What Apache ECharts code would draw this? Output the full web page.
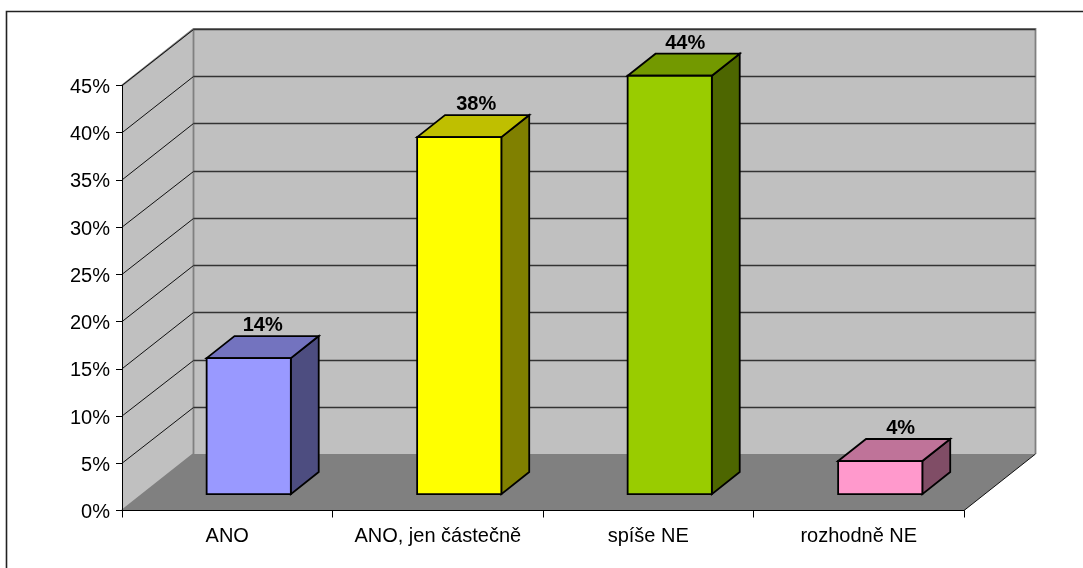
<!DOCTYPE html>
<html>
<head>
<meta charset="utf-8">
<style>html,body{margin:0;padding:0;background:#fff}#c{width:1083px;height:568px}</style>
<script src="https://cdn.jsdelivr.net/npm/echarts@6/dist/echarts.min.js"></script>
</head>
<body>
<div id="c"></div>
<script>
const categories = ['ANO', 'ANO, jen částečně', 'spíše NE', 'rozhodně NE'];
const values = [14.4, 37.8, 44.3, 3.5];
const frontColors = ['#9999FF', '#FFFF00', '#99CC00', '#FF99CC'];
const topColors = ['#7373BF', '#BFBF00', '#739900', '#BF7399'];
const sideColors = ['#4D4D80', '#808000', '#4D6600', '#804D66'];
const gridValues = [5, 10, 15, 20, 25, 30, 35, 40, 45];

const FONT = '"Liberation Sans", Arial, sans-serif';
const DX = 71.5, DY = -56.5;       // depth of the floor in pixels
const BAR_BACK = 0.29;             // where the bar's front sits in the depth
const BAR_DEPTH = 0.39;            // bar depth as a share of the floor depth
const BAR_WIDTH = 0.4;             // bar width as a share of the category band
const LABEL_SHIFT = [0, 3, 1.5, 6.5]; // the source's labels are not quite centred on the bars

const chart = echarts.init(document.getElementById('c'), null, { renderer: 'canvas' });

function poly(points, fill, stroke, lineWidth) {
  return { type: 'polygon', shape: { points }, style: { fill, stroke: stroke || 'none', lineWidth: lineWidth || 0, lineJoin: 'miter' } };
}
function line(p, color, w) {
  return { type: 'polyline', shape: { points: p }, style: { stroke: color, lineWidth: w || 1, fill: 'none' } };
}

function renderWalls(params, api) {
  const o = api.coord([0, 0]).slice();
  const bandW = api.size([1, 0])[0];
  const x0 = o[0] - bandW / 2, y0 = o[1];
  const x1 = x0 + bandW * categories.length;
  const yt = api.coord([0, 45])[1];
  return {
    type: 'group',
    children: [
      poly([[x0, yt], [x0 + DX, yt + DY], [x0 + DX, y0 + DY], [x0, y0]], '#C0C0C0'),
      poly([[x0 + DX, yt + DY], [x1 + DX, yt + DY], [x1 + DX, y0 + DY], [x0 + DX, y0 + DY]], '#C0C0C0'),
      poly([[x0, y0], [x1, y0], [x1 + DX, y0 + DY], [x0 + DX, y0 + DY]], '#808080'),
      line([[x0, yt], [x0 + DX, yt + DY], [x1 + DX, yt + DY], [x1 + DX, y0 + DY]], '#808080', 1.8),
      line([[x0 + DX, yt + DY], [x0 + DX, y0 + DY], [x0, y0]], '#808080', 1.8),
      line([[x1, y0], [x1 + DX, y0 + DY]], '#111111', 1)
    ]
  };
}

function renderGrid(params, api) {
  const o = api.coord([0, 0]);
  const bandW = api.size([1, 0])[0];
  const x0 = o[0] - bandW / 2;
  const x1 = x0 + bandW * categories.length;
  const y = api.coord([0, api.value(0)])[1];
  const yb = Math.round(y + DY) + 0.5;
  return {
    type: 'group',
    children: [
      line([[x0, y], [x0 + DX, yb]], '#111111', 1),
      line([[x0 + DX, yb], [x1 + DX, yb]], '#333333', 1.3)
    ]
  };
}

function renderBar(params, api) {
  const i = api.value(0);
  const c = api.coord([i, 0]);
  const top = api.coord([i, api.value(1)])[1];
  const bandW = api.size([1, 0])[0];
  const w = bandW * BAR_WIDTH;
  const xl = c[0] - w / 2 + DX * BAR_BACK + 0.75;
  const xr = xl + w;
  const yb = c[1] + DY * BAR_BACK;
  const yt = top + DY * BAR_BACK;
  const dx = DX * BAR_DEPTH, dy = DY * BAR_DEPTH;
  const s = '#000000', lw = 1.8;
  return {
    type: 'group',
    children: [
      poly([[xr, yt], [xr + dx, yt + dy], [xr + dx, yb + dy], [xr, yb]], sideColors[i], s, lw),
      poly([[xl, yt], [xl + dx, yt + dy], [xr + dx, yt + dy], [xr, yt]], topColors[i], s, lw),
      poly([[xl, yt], [xr, yt], [xr, yb], [xl, yb]], frontColors[i], s, lw),
      {
        type: 'text',
        style: {
          x: (xl + xr) / 2 + dx / 2 + LABEL_SHIFT[i],
          y: yt + dy - 0.5,
          text: Math.round(api.value(1)) + '%',
          align: 'center',
          verticalAlign: 'bottom',
          fill: '#000000',
          font: 'bold 20px ' + FONT
        }
      }
    ]
  };
}

chart.setOption({
  animation: false,
  backgroundColor: '#ffffff',
  graphic: [{
    type: 'polyline',
    z: 100,
    shape: { points: [[6.5, 568], [6.5, 11.5], [1083, 11.5]] },
    style: { stroke: '#222222', lineWidth: 1.6, fill: 'none' }
  }],
  grid: { left: 122, right: 119, top: 85.5, bottom: 57.5, containLabel: false },
  xAxis: {
    type: 'category',
    data: categories,
    z: 20,
    axisLine: { show: true, lineStyle: { color: '#000000', width: 1 } },
    axisTick: { show: true, alignWithLabel: false, interval: 0, length: 7, lineStyle: { color: '#000000' } },
    axisLabel: { color: '#000000', fontFamily: FONT, fontSize: 20, margin: 16, interval: 0, hideOverlap: false },
    splitLine: { show: false }
  },
  yAxis: {
    type: 'value',
    min: 0,
    max: 45,
    interval: 5,
    z: 20,
    axisLine: { show: true, lineStyle: { color: '#000000', width: 1 } },
    axisTick: { show: true, length: 6, lineStyle: { color: '#000000' } },
    axisLabel: {
      color: '#000000', fontFamily: FONT, fontSize: 20, margin: 12,
      formatter: '{a|{value}%}',
      rich: { a: { color: '#000000', fontFamily: FONT, fontSize: 20, padding: [4, 0, 0, 0] } },
      verticalAlignMinLabel: 'middle', verticalAlignMaxLabel: 'middle'
    },
    splitLine: { show: false }
  },
  series: [
    { type: 'custom', z: 1, renderItem: renderWalls, data: [[0]], encode: { x: 0, y: 0 }, silent: true, clip: false },
    { type: 'custom', z: 2, renderItem: renderGrid, data: gridValues.map(v => [v]), encode: { y: 0 }, silent: true, clip: false },
    { type: 'custom', z: 3, renderItem: renderBar, data: values.map((v, i) => [i, v]), encode: { x: 0, y: 1 }, clip: false }
  ]
});
</script>
</body>
</html>
